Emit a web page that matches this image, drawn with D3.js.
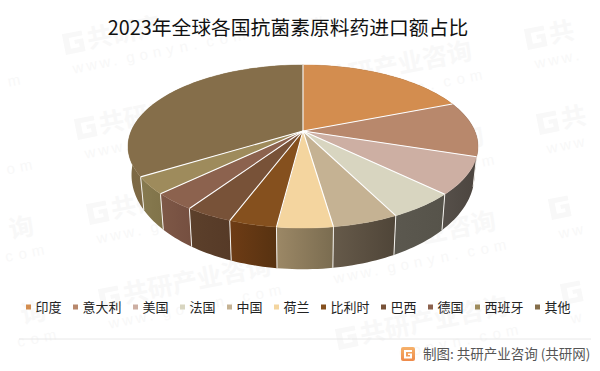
<!DOCTYPE html>
<html>
<head>
<meta charset="utf-8">
<title>2023年全球各国抗菌素原料药进口额占比</title>
<script src="https://cdn.jsdelivr.net/npm/d3@7"></script>
<style>
  html, body { margin: 0; padding: 0; background: #fff; }
  svg { display: block; }
  text { font-family: "Noto Sans CJK SC", "Noto Sans", sans-serif; }
</style>
</head>
<body>
<svg id="chart" width="600" height="371"></svg>
<script>
// values, in percent
const countries = ["印度", "意大利", "美国", "法国", "中国", "荷兰", "比利时", "巴西", "德国", "西班牙", "其他"];
const shares = [19.0, 11.0, 7.3, 5.3, 5.1, 4.3, 3.7, 3.7, 3.4, 3.4, 33.8];

const topColors = ["#d38d4f", "#b8886c", "#cdafa3", "#d8d5c0", "#c5b293", "#f4d59f", "#85501e", "#785238", "#8c624e", "#9e8b5c", "#856e4a"];
const sideLeft = ["#7a4a20", "#5a4a40", "#56504a", "#5b584f", "#665a4a", "#9c8866", "#6e3c15", "#5c402b", "#7e5847", "#877a50", "#7c6844"];
const sideRight = ["#7a4a20", "#5a4a40", "#4c453f", "#56534a", "#4f4538", "#7a6c50", "#573211", "#563a27", "#754f40", "#807349", "#8a7450"];

const title = "2023年全球各国抗菌素原料药进口额占比";
const source = "制图: 共研产业咨询 (共研网)";
const wmName = "共研产业咨询";
const wmSite = "www.gonyn.com";

const svg = d3.select("#chart");

// faint watermark grid behind everything
// letters go one by one so the ones that would hang over the edge can be left out
const wm = svg.append("g").attr("fill", "#f8f8f8");
const wmAngle = Math.atan2(-45, 225);

function wmPoint(x0, y0, dx, dy) {
    return [x0 + dx * Math.cos(wmAngle) - dy * Math.sin(wmAngle),
            y0 + dx * Math.sin(wmAngle) + dy * Math.cos(wmAngle)];
}

function wmLetters(x0, y0, letters, dx, dy, step, size, weight, family) {
    Array.from(letters).forEach((ch, i) => {
        const p = wmPoint(x0, y0, dx + i * step, dy);
        const far = wmPoint(x0, y0, dx + i * step + size, dy - size);
        if (p[0] < 6 || far[0] > 590 || far[1] < 8 || p[1] > 360) return;
        wm.append("text").text(ch)
            .attr("transform", "translate(" + p[0] + "," + p[1] + ") rotate(" + (wmAngle * 180 / Math.PI) + ")")
            .attr("font-size", size)
            .attr("font-weight", weight)
            .style("font-family", family);
    });
}

for (let row = -1; row < 6; row++) {
    for (let col = -1; col < 4; col++) {
        const x = 53 + row * 12 + col * 225;
        const y = -35 + row * 85 - col * 45;
        const a = wmPoint(x, y, 0, -16), b = wmPoint(x, y, 20, 5);
        if (a[0] > 2 && b[0] < 598 && a[1] > 2 && b[1] < 369) {
            wm.append("path")
                .attr("transform", "translate(" + x + "," + y + ") rotate(" + (wmAngle * 180 / Math.PI) + ")")
                .attr("d", "M0,-16 h20 v5 h-14 v11 h9 v-4 h-4 v-4 h9 v13 h-20 z");
        }
        wmLetters(x, y, wmName, 24, 3, 25, 25, 700, "'Noto Sans CJK SC'");
        wmLetters(x, y, wmSite, 4, 25, 13.6, 15, 400, "'Liberation Sans'");
    }
}

svg.append("text").text(title)
    .attr("x", 288).attr("y", 35)
    .attr("text-anchor", "middle")
    .attr("font-size", 19.8)
    .attr("fill", "#111");

// tilted pie: plan circle goes through a simple perspective
const cx = 303, cy = 131;
const persp = 0.19, spanY = 78.6, spanX = 171.8;

function projectTop(a) {
    const X = Math.sin(a), Y = -Math.cos(a);
    const d = 1 - persp * Y;
    return [cx + spanX * X / d, cy + spanY * Y / d];
}
// lower rim of the disc, fitted to the picture
function projectBottom(a) {
    const p = projectTop(a);
    return [cx + (p[0] - cx) * 0.98, cy + (p[1] - cy) * 1.157 + 26];
}

const pie = d3.pie().sort(null).value(d => d);
const arcs = pie(shares);
const line = d3.line();

function arcAngles(d) {
    const n = Math.max(4, Math.ceil((d.endAngle - d.startAngle) * 40));
    return d3.range(n + 1).map(i => d.startAngle + (d.endAngle - d.startAngle) * i / n);
}

const defs = svg.append("defs");
arcs.forEach((d, i) => {
    const grad = defs.append("linearGradient").attr("id", "side" + i);
    grad.append("stop").attr("offset", "0%").attr("stop-color", sideLeft[i]);
    grad.append("stop").attr("offset", "100%").attr("stop-color", sideRight[i]);
});

// sides first, the top faces cover whatever sits behind
svg.append("g").selectAll("path")
    .data(arcs)
    .enter()
    .append("path")
    .attr("d", d => {
        const as = arcAngles(d);
        return line(as.map(projectTop).concat(as.slice().reverse().map(projectBottom))) + "Z";
    })
    .attr("fill", (d, i) => "url(#side" + i + ")");

svg.append("g").selectAll("path")
    .data(arcs)
    .enter()
    .append("path")
    .attr("d", d => line([projectTop(d.startAngle), projectBottom(d.startAngle)]))
    .attr("stroke", "#f4f2ee")
    .attr("stroke-width", 1);

svg.append("g").selectAll("path")
    .data(arcs)
    .enter()
    .append("path")
    .attr("d", d => line([[cx, cy]].concat(arcAngles(d).map(projectTop))) + "Z")
    .attr("fill", (d, i) => topColors[i])
    .attr("stroke", (d, i) => topColors[i])
    .attr("stroke-width", 0.4);

// white spokes between the slices
svg.append("g").selectAll("path")
    .data(arcs)
    .enter()
    .append("path")
    .attr("d", d => line([[cx, cy], projectTop(d.startAngle)]))
    .attr("stroke", "#fff")
    .attr("stroke-width", 1.1);

// legend
let legendX = 26;
const legend = svg.append("g");
countries.forEach((name, i) => {
    legend.append("rect")
        .attr("x", legendX).attr("y", 304.5)
        .attr("width", 5).attr("height", 5)
        .attr("fill", topColors[i]);
    legend.append("text").text(name)
        .attr("x", legendX + 9.5).attr("y", 312)
        .attr("font-size", 13)
        .attr("fill", "#222");
    legendX += 21 + 13 * name.length;
});

// footer
svg.append("line")
    .attr("x1", 19).attr("x2", 591)
    .attr("y1", 339).attr("y2", 339)
    .attr("stroke", "#e8e8e8");

const logoGrad = defs.append("linearGradient")
    .attr("id", "logoGrad")
    .attr("x1", "0%").attr("y1", "0%").attr("x2", "0%").attr("y2", "100%");
logoGrad.append("stop").attr("offset", "0%").attr("stop-color", "#f6b26b");
logoGrad.append("stop").attr("offset", "100%").attr("stop-color", "#ee8a4a");

svg.append("rect")
    .attr("x", 401).attr("y", 347)
    .attr("width", 14).attr("height", 14)
    .attr("rx", 2)
    .attr("fill", "url(#logoGrad)");
svg.append("path")
    .attr("d", "M404,350 h8 v2 h-6 v4.5 h4 v-1.5 h-2 v-1.5 h4 v5 h-8 z")
    .attr("fill", "#fff");

svg.append("text").text(source)
    .attr("x", 423).attr("y", 358.5)
    .attr("font-size", 13.5)
    .attr("fill", "#555");
</script>
</body>
</html>
